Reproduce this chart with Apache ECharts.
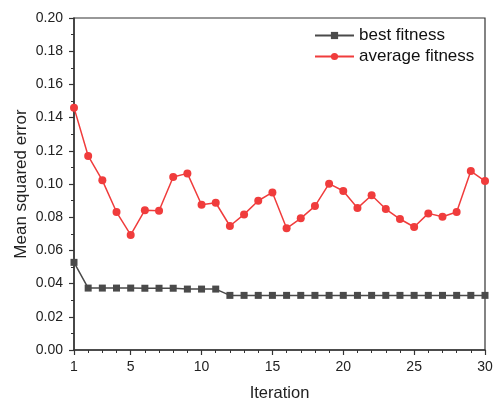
<!DOCTYPE html>
<html><head><meta charset="utf-8">
<script src="https://cdn.jsdelivr.net/npm/echarts@6/dist/echarts.min.js"></script>
<style>html,body{margin:0;padding:0;background:#fff}#c{width:496px;height:401px}</style>
</head><body><div id="c"></div>
<script>
const iterations = Array.from({length:30},(_,i)=>i+1);
const bestFitness = [0.0528,0.0373,0.0373,0.0373,0.0373,0.0372,0.0372,0.0372,0.0367,0.0367,0.0367,
  0.0329,0.0329,0.0329,0.0329,0.0329,0.0329,0.0329,0.0329,0.0329,0.0329,0.0329,0.0329,0.0329,0.0329,0.0329,0.0329,0.0329,0.0329,0.0329];
const avgFitness = [0.146,0.1169,0.1022,0.0831,0.0693,0.0842,0.0839,0.1042,0.1064,0.0875,0.0887,
  0.0747,0.0817,0.0899,0.0949,0.0733,0.0793,0.0867,0.1002,0.0958,0.0855,0.0932,0.0849,0.0789,0.0741,0.0823,0.0803,0.0831,0.1078,0.1018];
const xTicks = [1,5,10,15,20,25,30];
const seriesNames = ['best fitness','average fitness'];

const font = 'Liberation Sans, Arial, sans-serif';
const chart = echarts.init(document.getElementById('c'), null, {renderer:'canvas'});
chart.setOption({
  animation:false,
  backgroundColor:'#fff',
  grid:{left:74,right:11,top:18,bottom:51,outerBoundsMode:'none',containLabel:false,show:true,borderColor:'#333',borderWidth:1.2,backgroundColor:'transparent'},
  legend:{
    orient:'vertical', left:309, top:22, itemWidth:39, itemHeight:9, itemGap:4,
    textStyle:{fontFamily:font,fontSize:17,color:'#111'},
    data:seriesNames
  },
  xAxis:[{
    type:'value', min:1, max:30,
    name:'Iteration', nameLocation:'middle', nameGap:35, nameMoveOverlap:false,
    nameTextStyle:{fontFamily:font,fontSize:16.5,color:'#222'},
    axisLine:{show:true,onZero:false,lineStyle:{color:'#333',width:1.5}},
    axisTick:{show:true,customValues:xTicks,length:5,lineStyle:{color:'#333',width:1.2}},
    axisLabel:{customValues:xTicks,fontFamily:font,fontSize:14,color:'#222',margin:10},
    splitLine:{show:false}
  },{
    type:'value', min:1, max:30, interval:1, position:'bottom',
    axisLine:{show:false}, axisLabel:{show:false}, splitLine:{show:false},
    axisTick:{show:true,length:3,lineStyle:{color:'#333',width:1}}
  }],
  yAxis:{
    type:'value', min:0, max:0.2, interval:0.02,
    name:'Mean squared error', nameLocation:'middle', nameGap:44, nameMoveOverlap:false,
    nameTextStyle:{fontFamily:font,fontSize:17,color:'#222'},
    axisLine:{show:true,lineStyle:{color:'#333',width:1.5}},
    axisTick:{show:true,length:5,lineStyle:{color:'#333',width:1.2}},
    minorTick:{show:true,splitNumber:2,length:3,lineStyle:{color:'#333',width:1}},
    axisLabel:{fontFamily:font,fontSize:14,color:'#222',margin:11,formatter:v=>v.toFixed(2)},
    splitLine:{show:false}
  },
  series:[{
    name:seriesNames[0], type:'line', xAxisIndex:0,
    data:iterations.map((x,i)=>[x,bestFitness[i]]),
    symbol:'rect', symbolSize:7,
    itemStyle:{color:'#4a4a4a'}, lineStyle:{color:'#4a4a4a',width:1.5}
  },{
    name:seriesNames[1], type:'line', xAxisIndex:0,
    data:iterations.map((x,i)=>[x,avgFitness[i]]),
    symbol:'circle', symbolSize:8,
    itemStyle:{color:'#f03c3c'}, lineStyle:{color:'#f03c3c',width:1.5}
  }]
});
</script></body></html>
